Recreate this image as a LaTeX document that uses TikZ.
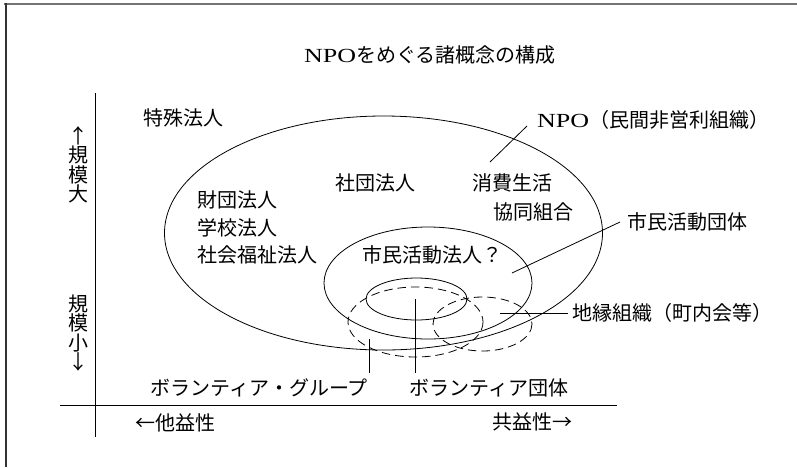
\documentclass[tikz,border=0pt]{standalone}
\usepackage{fontspec}
\setmainfont{Liberation Serif}
\newfontfamily\jp{Noto Sans CJK JP}
\newfontfamily\lat[FakeStretch=1.3]{Liberation Serif}
\begin{document}
\begin{tikzpicture}[x=1pt,y=-1pt,
  lbl/.style={font=\jp\fontsize{20}{22}\selectfont, inner sep=0pt, anchor=west},
  ttl/.style={font=\jp\fontsize{20}{22}\selectfont, inner sep=0pt},
  vlbl/.style={font=\jp\fontsize{20}{19.5}\selectfont, inner sep=0pt, align=center},
  ln/.style={line width=0.8pt},
  dsh/.style={line width=0.8pt, dash pattern=on 8.5pt off 5pt}]
\useasboundingbox (0,0) rectangle (797,467);
% frame remnants
\draw[line width=1.6pt, black!55] (4,3.8) -- (797,3.8);
\draw[line width=1.6pt, black!80] (5.8,3) -- (5.8,467);

% title
\node[ttl] (title) at (430,55) {{\lat NPO}をめぐる諸概念の構成};

% axes
\coordinate (vtop) at (95.5,93);
\coordinate (vbot) at (95.5,437);
\coordinate (hleft) at (60,405);
\coordinate (hright) at (617,405);
\draw[ln] (vtop) -- (vbot);
\draw[ln] (hleft) -- (hright);

% axis labels
\node[vlbl] (large) at (78,165) {↑\\規\\模\\大};
\node[vlbl] (small) at (78,333) {規\\模\\小\\↓};
\node[lbl] (taeki) at (135,423) {←他益性};
\node[lbl] (kyoeki) at (492,422) {共益性→};

% ellipses
\draw[ln] (383.5,233) ellipse [x radius=219, y radius=117];
\draw[ln] (428,283) ellipse [x radius=104, y radius=56];
\draw[ln] (416.5,299) ellipse [x radius=50.5, y radius=21];
\draw[dsh] (415.5,322) ellipse [x radius=67.5, y radius=35];
\draw[dsh] (482.5,324) ellipse [x radius=49.5, y radius=27];

% texts inside
\node[lbl] (tokushu) at (143,118) {特殊法人};
\node[lbl] (zaidan) at (197,200) {財団法人};
\node[lbl] (gakko) at (197,228) {学校法人};
\node[lbl] (shakai) at (197,255) {社会福祉法人};
\node[lbl] (shadan) at (335,183) {社団法人};
\node[lbl] (shohi) at (472,183) {消費生活};
\node[lbl] (kyodo) at (493,212) {協同組合};
\node[lbl] (shimin) at (362,255) {市民活動法人？};

% outside labels
\node[lbl] (npo) at (537,120) {{\lat NPO}（民間非営利組織）};
\node[lbl] (katsudo) at (627,222) {市民活動団体};
\node[lbl] (chien) at (572,313) {地縁組織（町内会等）};
\node[lbl] (vgroup) at (150,388) {ボランティア・グループ};
\node[lbl] (vdantai) at (409,388) {ボランティア団体};

% leader lines
\coordinate (npoA) at (490,162);
\coordinate (npoB) at (527,126);
\draw[ln] (npoA) -- (npoB);
\coordinate (katA) at (512,273);
\coordinate (katB) at (620,222);
\draw[ln] (katA) -- (katB);
\coordinate (chiA) at (500,313);
\coordinate (chiB) at (568,313);
\draw[ln] (chiA) -- (chiB);
\coordinate (grpA) at (369,339);
\coordinate (grpB) at (369,373);
\draw[ln] (grpA) -- (grpB);
\coordinate (danA) at (415,299);
\coordinate (danB) at (415,373);
\draw[ln] (danA) -- (danB);
\end{tikzpicture}
\end{document}
